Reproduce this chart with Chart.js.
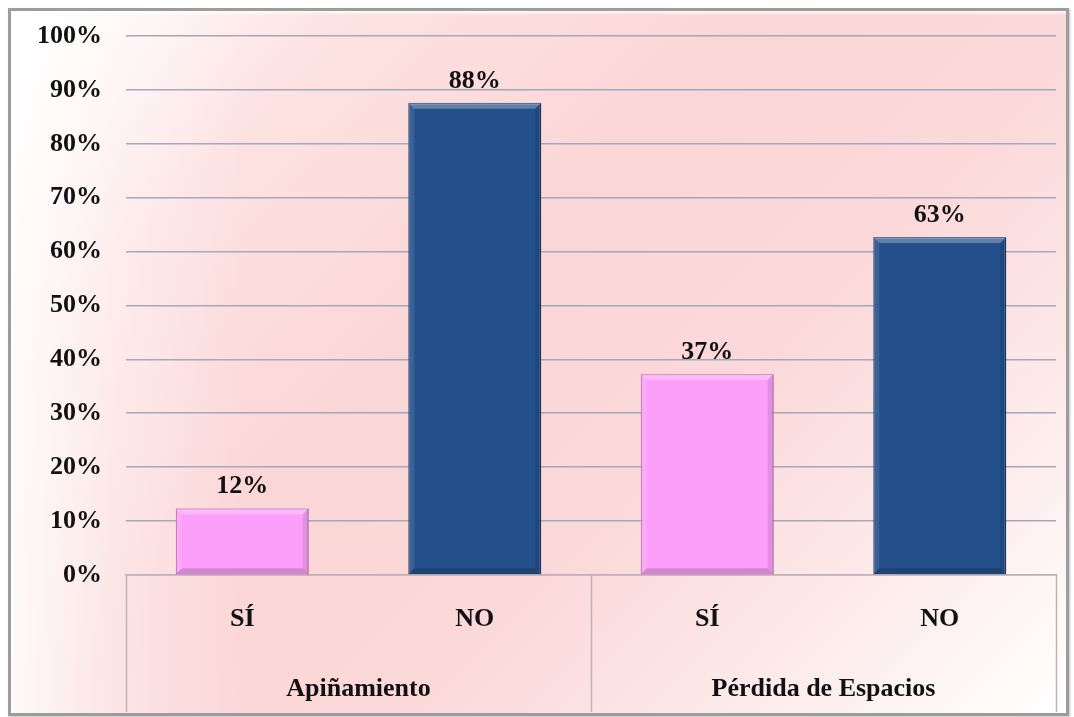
<!DOCTYPE html>
<html>
<head>
<meta charset="utf-8">
<script src="https://cdn.jsdelivr.net/npm/chart.js@4/dist/chart.umd.min.js"></script>
<style>
  html, body { margin: 0; padding: 0; background: #ffffff; }
  #wrap { position: relative; width: 1074px; height: 717px; overflow: hidden; }
  #frame {
    position: absolute; left: 8px; top: 8px; width: 1061px; height: 708px;
    box-sizing: border-box; border: 3px solid #9c9c9c;
    box-shadow: inset 2px 2px 3px rgba(255,255,255,0.9), 1px 1px 2px rgba(0,0,0,0.25);
    background:
      linear-gradient(to right, rgba(255,255,255,0.85) 0%, rgba(255,255,255,0.35) 10%, rgba(255,255,255,0) 22%),
      linear-gradient(135deg, #ffffff 0%, #fde2e2 20%, #fbd6d7 42%, #fbd8d9 62%, #fde9e9 80%, #ffffff 100%);
  }
  canvas { position: absolute; left: 0; top: 0; }
</style>
</head>
<body>
<div id="wrap">
  <div id="frame"></div>
  <canvas id="c" width="1074" height="717"></canvas>
</div>
<script>
const categories = ['SÍ', 'NO', 'SÍ', 'NO'];
const groups = ['Apiñamiento', 'Pérdida de Espacios'];
const values = [12.4, 87.6, 37.3, 62.7];
const barColors = ['#fc9ffb', '#23508a', '#fc9ffb', '#23508a'];
const barBorders = ['#c46cbc', '#1a3c68', '#c46cbc', '#1a3c68'];
const yTicks = [0, 10, 20, 30, 40, 50, 60, 70, 80, 90, 100];

const FONT = 'Liberation Serif, "Times New Roman", serif';

const bevel = {
  id: 'bevel',
  afterDatasetsDraw(chart) {
    const ctx = chart.ctx;
    const meta = chart.getDatasetMeta(0);
    const b = 6;
    ctx.save();
    meta.data.forEach(bar => {
      const l = bar.x - bar.width / 2, r = bar.x + bar.width / 2;
      const t = bar.y, btm = bar.base;
      const quad = (pts, col) => {
        ctx.beginPath();
        ctx.moveTo(pts[0][0], pts[0][1]);
        for (let i = 1; i < pts.length; i++) ctx.lineTo(pts[i][0], pts[i][1]);
        ctx.closePath();
        ctx.fillStyle = col;
        ctx.fill();
      };
      quad([[l, t], [r, t], [r - b, t + b], [l + b, t + b]], 'rgba(255,255,255,0.28)');
      quad([[l, t], [l + b, t + b], [l + b, btm - b], [l, btm]], 'rgba(255,255,255,0.10)');
      quad([[r, t], [r - b, t + b], [r - b, btm - b], [r, btm]], 'rgba(0,0,0,0.10)');
      quad([[l, btm], [l + b, btm - b], [r - b, btm - b], [r, btm]], 'rgba(0,0,0,0.16)');
    });
    ctx.restore();
  }
};

const valueLabels = {
  id: 'valueLabels',
  afterDatasetsDraw(chart) {
    const ctx = chart.ctx;
    const meta = chart.getDatasetMeta(0);
    ctx.save();
    ctx.font = 'bold 26px ' + FONT;
    ctx.fillStyle = '#111111';
    ctx.textAlign = 'center';
    ctx.textBaseline = 'middle';
    meta.data.forEach((bar, i) => {
      ctx.fillText(Math.round(values[i]) + '%', bar.x, bar.y - 22);
    });
    ctx.restore();
  }
};

const groupLines = {
  id: 'groupLines',
  afterDraw(chart) {
    const ctx = chart.ctx;
    const x = chart.scales.x;
    const x2 = chart.scales.x2;
    const top = chart.chartArea.bottom;
    const bottom = x2.bottom;
    const mid = (x.getPixelForValue(1) + x.getPixelForValue(2)) / 2;
    const xs = [chart.chartArea.left, mid, chart.chartArea.right];
    ctx.save();
    ctx.strokeStyle = '#c4b0b2';
    ctx.lineWidth = 1.5;
    xs.forEach(px => {
      ctx.beginPath();
      ctx.moveTo(Math.round(px) + 0.5, top);
      ctx.lineTo(Math.round(px) + 0.5, bottom);
      ctx.stroke();
    });
    ctx.restore();
  }
};

new Chart(document.getElementById('c'), {
  type: 'bar',
  data: {
    labels: categories,
    datasets: [{
      data: values,
      backgroundColor: barColors,
      borderColor: barBorders,
      borderWidth: 1.5,
      barPercentage: 0.572,
      categoryPercentage: 1.0
    }]
  },
  options: {
    responsive: false,
    animation: false,
    events: [],
    layout: { padding: { left: 10, right: 18, top: 36, bottom: 5 } },
    plugins: {
      legend: { display: false },
      tooltip: { enabled: false },
      title: { display: false }
    },
    scales: {
      y: {
        min: 0, max: 100,
        afterBuildTicks(scale) { scale.ticks = yTicks.map(v => ({ value: v })); },
        afterFit(scale) { scale.width = 116; scale.paddingTop = 0; scale.paddingBottom = 0; },
        ticks: {
          callback: v => v + '%',
          font: { family: FONT, size: 26, weight: 'bold' },
          color: '#111111',
          padding: 24
        },
        grid: { color: '#a4a8bc', lineWidth: 1.6, drawTicks: false, tickLength: 0 },
        border: { display: false }
      },
      x: {
        position: 'bottom',
        afterFit(scale) { scale.height = 75; },
        grid: { display: false, drawTicks: false, tickLength: 0 },
        border: { display: true, color: '#c4b0b2', width: 1.5 },
        ticks: {
          font: { family: FONT, size: 26, weight: 'bold' },
          color: '#111111',
          padding: 29,
          maxRotation: 0
        }
      },
      x2: {
        type: 'category',
        labels: groups,
        position: 'bottom',
        offset: true,
        afterFit(scale) { scale.height = 62; },
        grid: { display: false, drawTicks: false, tickLength: 0 },
        border: { display: false },
        ticks: {
          font: { family: FONT, size: 26, weight: 'bold' },
          color: '#111111',
          padding: 24,
          maxRotation: 0
        }
      }
    }
  },
  plugins: [bevel, valueLabels, groupLines]
});
</script>
</body>
</html>
